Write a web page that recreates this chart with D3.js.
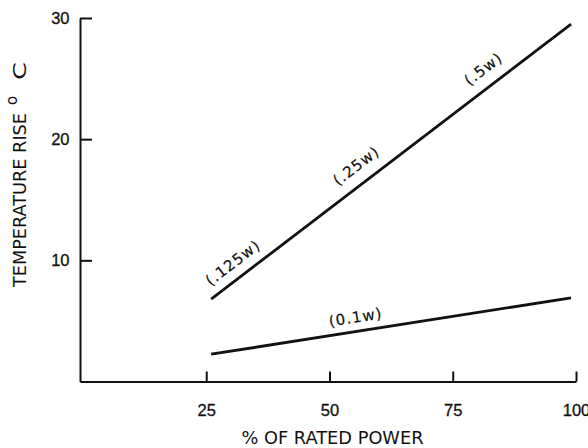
<!DOCTYPE html>
<html><head><meta charset="utf-8">
<script src="https://cdn.jsdelivr.net/npm/d3@7/dist/d3.min.js"></script>
<style>body{margin:0;background:#fff}svg{display:block}</style>
</head><body>
<svg id="c" width="588" height="448"></svg>
<script>
// ---- data ----
const xTicks = [25, 50, 75, 100];
const yTicks = [10, 20, 30];
const powerPct = [26, 99];                 // % of rated power
const upperRise = [6.8, 29.5];             // temperature rise, upper line
const lowerRise = [2.25, 6.9];             // temperature rise, lower line
const labelText = ["(.125w)", "(.25w)", "(.5w)", "(0.1w)"];
const labelX = [30.4, 55.4, 81.2, 55.3];
const labelY = [9.8, 17.8, 25.8, 5.3];
const labelLine = ["upper", "upper", "upper", "lower"];
const xTitle = "% OF RATED POWER";
const yTitle = "TEMPERATURE RISE";
const yUnit = ["o", "C"];

// ---- chart ----
const svg = d3.select("#c");
const x = d3.scaleLinear().domain([-0.6, 100]).range([80, 576]);
const y = d3.scaleLinear().domain([0, 30]).range([381.5, 18]);

const gx = svg.append("g").attr("transform", "translate(0,381.5)")
  .call(d3.axisBottom(x).tickValues(xTicks).tickSizeInner(-10).tickSizeOuter(0).tickPadding(23).tickFormat(d3.format("d")));
const gy = svg.append("g").attr("transform", "translate(80,0)")
  .call(d3.axisLeft(y).tickValues(yTicks).tickSizeInner(-12).tickSizeOuter(0).tickPadding(10.5).tickFormat(d3.format("d")));
[gx, gy].forEach(g => {
  g.select(".domain").attr("stroke", "#111").attr("stroke-width", 2);
  g.selectAll(".tick line").attr("stroke", "#111").attr("stroke-width", 2);
  g.selectAll(".tick text").attr("fill", "#111")
    .style("font-family", "Liberation Sans, Arial, sans-serif").style("font-size", "16.5px")
    .attr("stroke", "#111").attr("stroke-width", 0.3);
});

const lines = {
  upper: powerPct.map((p, i) => [p, upperRise[i]]),
  lower: powerPct.map((p, i) => [p, lowerRise[i]])
};
const lineGen = d3.line().x(d => x(d[0])).y(d => y(d[1]));
Object.values(lines).forEach(pts => {
  svg.append("path").attr("d", lineGen(pts)).attr("fill", "none")
    .attr("stroke", "#111").attr("stroke-width", 2.8);
});

function angleOf(pts) {
  const dx = x(pts[1][0]) - x(pts[0][0]);
  const dy = y(pts[1][1]) - y(pts[0][1]);
  return Math.atan2(dy, dx) * 180 / Math.PI;
}
labelText.forEach((t, i) => {
  const a = angleOf(lines[labelLine[i]]);
  svg.append("text")
    .attr("transform", `translate(${x(labelX[i])},${y(labelY[i])}) rotate(${a})`)
    .attr("text-anchor", "middle").attr("dy", "0.35em")
    .style("font-family", "DejaVu Sans, sans-serif").style("font-size", "15px")
    .style("letter-spacing", "1px").attr("fill", "#111")
    .attr("stroke", "#111").attr("stroke-width", 0.2)
    .text(t);
});

svg.append("text").attr("x", 332.5).attr("y", 444).attr("text-anchor", "middle")
  .style("font-family", "DejaVu Sans, sans-serif").style("font-size", "17px")
  .attr("fill", "#111").attr("textLength", 182).attr("lengthAdjust", "spacingAndGlyphs")
  .text(xTitle);

const ytG = svg.append("g").attr("transform", "translate(26,287) rotate(-90)")
  .style("font-family", "DejaVu Sans, sans-serif").attr("fill", "#111");
ytG.append("text").attr("x", 0).attr("y", 0).style("font-size", "17px")
  .attr("textLength", 174).attr("lengthAdjust", "spacingAndGlyphs").text(yTitle);
ytG.append("text").attr("x", 182).attr("y", -9).style("font-size", "15px").text(yUnit[0]);
ytG.append("text").attr("x", 207).attr("y", 0).style("font-size", "17px")
  .attr("textLength", 18).attr("lengthAdjust", "spacingAndGlyphs").text(yUnit[1]);
</script>
</body></html>
